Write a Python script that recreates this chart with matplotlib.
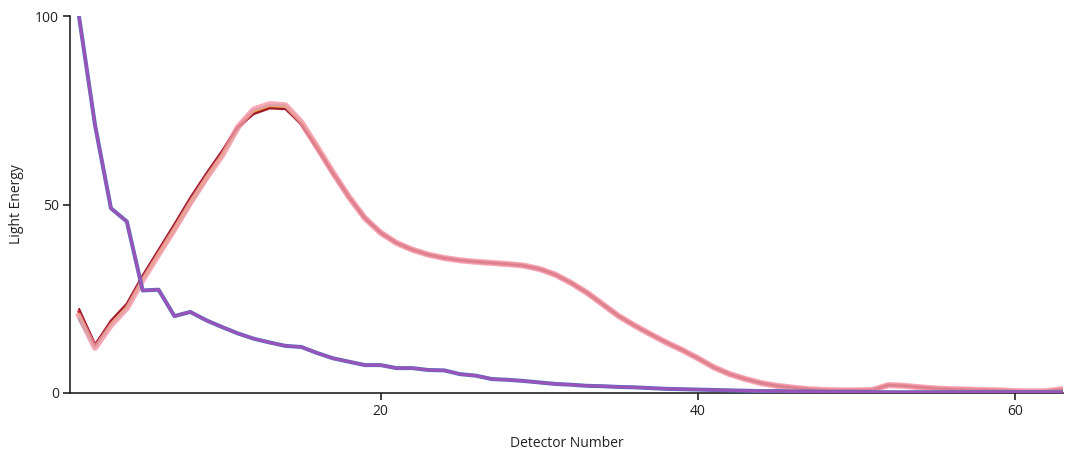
import matplotlib
matplotlib.use("Agg")
import matplotlib.pyplot as plt

detector = list(range(1, 64))

s_red = [21.5, 12.5, 18.6, 23.0, 30.5, 37.0, 43.5, 50.5, 57.0, 63.5, 70.5, 74.8, 76.0, 75.9, 71.5, 65.0,
         58.3, 52.0, 46.4, 42.5, 39.8, 38.0, 36.7, 35.8, 35.2, 34.8, 34.5, 34.2, 33.8, 32.9, 31.4, 29.2,
         26.6, 23.5, 20.4, 17.9, 15.6, 13.4, 11.4, 9.2, 6.8, 5.0, 3.7, 2.6, 1.9, 1.4, 1.0, 0.8,
         0.7, 0.7, 0.8, 2.1, 1.9, 1.5, 1.2, 1.0, 0.9, 0.8, 0.7, 0.5, 0.4, 0.5, 1.0]
s_darkred = [22.2, 12.8, 19.2, 23.7, 31.2, 38.0, 44.8, 51.8, 58.2, 64.2, 70.5, 74.0, 75.5, 75.3, 71.3, 65.0,
             58.3, 52.0, 46.4, 42.5, 39.8, 38.0, 36.7, 35.8, 35.2, 34.8, 34.5, 34.2, 33.8, 32.9, 31.4, 29.2,
             26.6, 23.5, 20.4, 17.9, 15.6, 13.4, 11.4, 9.2, 6.8, 5.0, 3.7, 2.6, 1.9, 1.4, 1.0, 0.8,
             0.7, 0.7, 0.8, 2.1, 1.9, 1.5, 1.2, 1.0, 0.9, 0.8, 0.7, 0.5, 0.4, 0.5, 1.0]
s_pink = [20.5, 12.0, 18.0, 22.5, 30.0, 36.8, 43.5, 50.5, 57.0, 63.0, 70.5, 75.2, 76.6, 76.3, 71.8, 65.2,
          58.4, 52.0, 46.4, 42.5, 39.8, 38.0, 36.7, 35.8, 35.2, 34.8, 34.5, 34.2, 33.8, 32.9, 31.4, 29.2,
          26.6, 23.5, 20.4, 17.9, 15.6, 13.4, 11.4, 9.2, 6.8, 5.0, 3.7, 2.6, 1.9, 1.4, 1.0, 0.8,
          0.7, 0.7, 0.8, 2.1, 1.9, 1.5, 1.2, 1.0, 0.9, 0.8, 0.7, 0.5, 0.4, 0.5, 1.0]
s_orange = [21.0, 12.5, 18.5, 23.0, 30.3, 37.0, 43.8, 50.8, 57.2, 63.3, 70.4, 74.6, 75.8, 76.0, 71.7, 65.3,
            58.4, 52.0, 46.4, 42.5, 39.8, 38.0, 36.7, 35.8, 35.2, 34.8, 34.5, 34.2, 33.8, 32.9, 31.4, 29.2,
            26.6, 23.5, 20.4, 17.9, 15.6, 13.4, 11.4, 9.2, 6.8, 5.0, 3.7, 2.6, 1.9, 1.4, 1.0, 0.8,
            0.7, 0.7, 0.8, 2.1, 1.9, 1.5, 1.2, 1.0, 0.9, 0.8, 0.7, 0.5, 0.4, 0.5, 1.0]
s_gray = [20.0, 12.3, 18.3, 22.8, 30.3, 37.0, 43.6, 50.6, 57.0, 63.2, 70.3, 74.9, 76.3, 76.3, 71.6, 65.1,
          58.3, 52.0, 46.4, 42.5, 39.8, 38.0, 36.7, 35.8, 35.2, 34.8, 34.5, 34.2, 33.8, 32.9, 31.4, 29.2,
          26.6, 23.5, 20.4, 17.9, 15.6, 13.4, 11.4, 9.2, 6.8, 5.0, 3.7, 2.6, 1.9, 1.4, 1.0, 0.8,
          0.7, 0.7, 0.8, 2.1, 1.9, 1.5, 1.2, 1.0, 0.9, 0.8, 0.7, 0.5, 0.4, 0.5, 1.0]
s_blue = [19.5, 12.2, 18.2, 22.7, 30.2, 36.9, 43.5, 50.5, 57.0, 63.1, 70.2, 74.8, 76.1, 76.0, 71.5, 65.0,
          58.3, 52.0, 46.4, 42.5, 39.8, 38.0, 36.7, 35.8, 35.2, 34.8, 34.5, 34.2, 33.8, 32.9, 31.4, 29.2,
          26.6, 23.5, 20.4, 17.9, 15.6, 13.4, 11.4, 9.2, 6.8, 5.0, 3.7, 2.6, 1.9, 1.4, 1.0, 0.8,
          0.7, 0.7, 0.8, 2.1, 1.9, 1.5, 1.2, 1.0, 0.9, 0.8, 0.7, 0.5, 0.4, 0.5, 1.0]
s_green = [20.2, 12.4, 18.4, 22.8, 30.1, 36.7, 43.3, 50.3, 56.8, 63.0, 70.2, 74.7, 76.0, 75.9, 71.4, 65.0,
           58.3, 52.0, 46.4, 42.5, 39.8, 38.0, 36.7, 35.8, 35.2, 34.8, 34.5, 34.2, 33.8, 32.9, 31.4, 29.2,
           26.6, 23.5, 20.4, 17.9, 15.6, 13.4, 11.4, 9.2, 6.8, 5.0, 3.7, 2.6, 1.9, 1.4, 1.0, 0.8,
           0.7, 0.7, 0.8, 2.1, 1.9, 1.5, 1.2, 1.0, 0.9, 0.8, 0.7, 0.5, 0.4, 0.5, 1.0]

s_purple = [99.5, 71.0, 49.0, 45.5, 27.2, 27.4, 20.4, 21.5, 19.3, 17.5, 15.8, 14.4, 13.4, 12.5, 12.2, 10.6,
            9.2, 8.3, 7.4, 7.4, 6.6, 6.6, 6.1, 6.0, 5.0, 4.6, 3.7, 3.5, 3.2, 2.8, 2.4, 2.2,
            1.9, 1.8, 1.6, 1.5, 1.3, 1.1, 1.0, 0.9, 0.8, 0.7, 0.6, 0.5, 0.5, 0.4, 0.4, 0.3,
            0.3, 0.3, 0.2, 0.2, 0.2, 0.2, 0.2, 0.2, 0.2, 0.2, 0.2, 0.2, 0.2, 0.2, 0.2]
s_violet = [99.5, 71.0, 49.0, 45.5, 27.2, 27.4, 20.4, 21.5, 19.3, 17.5, 15.8, 14.4, 13.4, 12.5, 12.2, 10.6,
            9.2, 8.3, 7.4, 7.4, 6.6, 6.6, 6.1, 6.0, 5.0, 4.6, 3.7, 3.5, 3.2, 2.8, 2.4, 2.2,
            1.9, 1.8, 1.6, 1.5, 1.3, 1.1, 1.0, 0.9, 0.8, 0.7, 0.6, 0.5, 0.5, 0.4, 0.4, 0.3,
            0.3, 0.3, 0.2, 0.2, 0.2, 0.2, 0.2, 0.2, 0.2, 0.2, 0.2, 0.2, 0.2, 0.2, 0.2]

x_ticks = [20, 40, 60]
y_ticks = [0, 50, 100]

plt.rcParams['font.family'] = ['Open Sans', 'DejaVu Sans']

fig = plt.figure(figsize=(10.65, 4.54), dpi=100)
ax = fig.add_axes([70 / 1065, (454 - 393) / 454, (1063 - 70) / 1065, (393 - 16) / 454])

ax.plot(detector, s_pink, color='#f7a9b8', lw=4.4, solid_joinstyle='round', zorder=2)
ax.plot(detector, s_red, color='#e8394e', lw=2.6, solid_joinstyle='round', zorder=3)
ax.plot(detector, s_blue, color='#5b8fc0', lw=1.4, zorder=4)
ax.plot(detector, s_green, color='#8cc88c', lw=1.4, zorder=4)
ax.plot(detector, s_gray, color='#8a8a8a', lw=1.4, zorder=5)
ax.plot(detector, s_orange, color='#e89a1a', lw=1.4, zorder=5)
ax.plot(detector, s_darkred, color='#9e1a2c', lw=1.6, zorder=6)
ax.plot(detector, s_pink, color='#f7a9b8', lw=3.2, alpha=0.7, zorder=7)

ax.plot(detector, s_violet, color='#5a6fb8', lw=2.9, solid_joinstyle='round', zorder=8)
ax.plot(detector, s_purple, color='#9b52ba', lw=2.0, solid_joinstyle='round', zorder=9)

ax.set_xlim(0.42, 63)
ax.set_ylim(0, 100)
ax.set_xticks(x_ticks)
ax.set_yticks(y_ticks)
ax.set_xticklabels([str(t) for t in x_ticks])
ax.set_yticklabels([str(t) for t in y_ticks])

for side in ['top', 'right']:
    ax.spines[side].set_visible(False)
for side in ['left', 'bottom']:
    ax.spines[side].set_color('#222222')
    ax.spines[side].set_linewidth(1.2)

ax.tick_params(axis='both', direction='out', length=5, width=1.2, color='#222222',
               labelsize=10, labelcolor='#222222', pad=3)

ax.set_xlabel('Detector Number', fontsize=10, color='#222222', labelpad=12)
ax.set_ylabel('Light Energy', fontsize=10, color='#222222', labelpad=8)

fig.savefig('out.png', dpi=100)
